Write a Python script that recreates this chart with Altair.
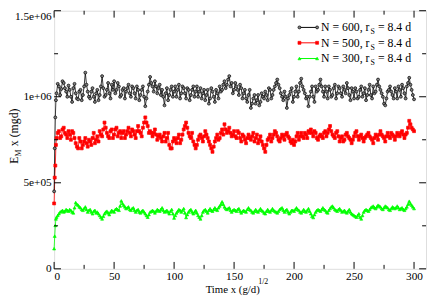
import altair as alt
import pandas as pd

# ---------------- data (values in thousands of mgd) ----------------
time_start = [0, 0.5, 1, 1.5]
time_even = list(range(2, 301, 2))
time_odd = list(range(3, 300, 2))

black_start = [450, 700, 880, 980]
black_even = [
    1020, 1060, 1045, 1080, 1030, 1065, 1000, 1050, 1020, 985,
    1040, 1010, 1140, 1030, 990, 1050, 970, 1040, 1010, 1120,
    1000, 1040, 1020, 1070, 1090, 1040, 1060, 1010, 1050, 1030,
    1070, 1000, 1050, 990, 1040, 1010, 1060, 945, 1030, 1115,
    1060, 1090, 1020, 1070, 1040, 950, 1050, 1010, 1060, 1030,
    1000, 1070, 1020, 1050, 990, 1040, 1010, 1060, 1030, 1000,
    1050, 1020, 980, 1040, 990, 1030, 970, 1020, 1060, 1040,
    1090, 1070, 1120, 1080, 1040, 1060, 1010, 1050, 1020, 990,
    1010, 935, 990, 960, 1010, 970, 1000, 1030, 980, 1040,
    1010, 1060, 1100, 1050, 1000, 1030, 935, 1010, 1050, 1000,
    1060, 1030, 1105, 1040, 990, 945, 1030, 1000, 1060, 1040,
    1100, 1030, 1060, 990, 1040, 1010, 1070, 1020, 1050, 1000,
    1040, 1080, 1010, 1050, 990, 1030, 1000, 1060, 1020, 980,
    1040, 1010, 1060, 1030, 1100, 1040, 1000, 950, 1030, 1060,
    1010, 1050, 990, 1040, 1070, 1020, 1060, 1110, 1040, 985,
]
black_odd = [
    1075, 1010, 1090, 1050, 1000, 1040, 970, 1075, 990, 1030,
    980, 1060, 1070, 1000, 1030, 1000, 1020, 980, 1060, 1050,
    1010, 1080, 990, 1040, 1020, 1080, 1000, 1040, 990, 1050,
    1020, 1060, 1020, 1060, 980, 1040, 1000, 990, 1070, 1080,
    1030, 1060, 1050, 1010, 1000, 1020, 980, 1040, 1000, 1060,
    1040, 990, 1060, 1020, 1050, 980, 1040, 1000, 1060, 1030,
    990, 1040, 1010, 960, 1050, 1000, 1040, 990, 1030, 1070,
    1050, 1100, 1060, 1020, 1080, 1040, 1070, 990, 1040, 970,
    1040, 960, 1010, 980, 950, 1020, 990, 1010, 1050, 990,
    1040, 1080, 1070, 1020, 980, 1000, 990, 1030, 970, 1030,
    1000, 1080, 1060, 1020, 1000, 1000, 1060, 970, 1030, 1070,
    1060, 1000, 1030, 1060, 1000, 1050, 990, 1060, 1020, 1060,
    1020, 1050, 980, 1030, 1050, 990, 1040, 1000, 1050, 1010,
    1070, 990, 1020, 1070, 1060, 1020, 960, 990, 1040, 1030,
    990, 1030, 1060, 1000, 1050, 990, 1080, 1070, 1010,
]

red_start = [380, 530, 600, 720]
red_even = [
    760, 800, 770, 820, 780, 800, 750, 790, 730, 700,
    740, 720, 760, 710, 740, 760, 730, 770, 800, 770,
    850, 790, 760, 810, 780, 820, 790, 760, 800, 780,
    820, 770, 800, 760, 830, 790, 820, 880, 830, 800,
    770, 810, 750, 780, 740, 790, 760, 720, 700, 760,
    730, 780, 750, 810, 850, 790, 760, 740, 700, 750,
    780, 740, 800, 760, 720, 680, 740, 780, 760, 810,
    840, 790, 820, 770, 800, 760, 790, 740, 770, 730,
    780, 750, 790, 760, 730, 770, 720, 680, 750, 780,
    760, 800, 770, 740, 780, 750, 790, 760, 730, 720,
    770, 750, 790, 760, 780, 800, 810, 770, 790, 750,
    780, 760, 800, 790, 830, 780, 760, 800, 740, 770,
    750, 790, 760, 730, 770, 800, 750, 780, 740, 770,
    790, 760, 730, 780, 750, 800, 770, 740, 790, 760,
    780, 750, 790, 770, 800, 760, 790, 860, 820, 800,
]
red_odd = [
    790, 760, 810, 790, 760, 780, 800, 760, 710, 760,
    700, 740, 730, 750, 720, 790, 750, 740, 780, 810,
    820, 770, 800, 760, 810, 770, 800, 790, 760, 800,
    790, 810, 780, 800, 800, 770, 850, 850, 790, 790,
    790, 780, 770, 760, 770, 740, 790, 700, 740, 750,
    760, 730, 780, 830, 820, 770, 790, 720, 720, 770,
    760, 770, 780, 740, 700, 710, 760, 750, 790, 780,
    810, 800, 790, 780, 770, 800, 760, 780, 750, 760,
    760, 770, 740, 780, 750, 740, 700, 720, 760, 740,
    780, 790, 750, 760, 770, 780, 770, 740, 750, 740,
    790, 770, 770, 790, 760, 790, 790, 800, 760, 770,
    770, 790, 770, 810, 800, 770, 790, 770, 760, 740,
    780, 770, 750, 750, 790, 770, 770, 760, 760, 780,
    770, 750, 760, 770, 780, 780, 760, 770, 770, 790,
    770, 770, 780, 790, 780, 780, 820, 840, 810,
]

green_start = [117, 190, 252, 290]
green_even = [
    300, 320, 335, 330, 345, 335, 340, 325, 385, 370,
    355, 340, 360, 330, 345, 320, 340, 330, 310, 290,
    320, 335, 315, 340, 330, 350, 340, 395, 370, 350,
    360, 340, 355, 330, 345, 325, 340, 320, 300, 330,
    340, 325, 345, 335, 355, 330, 340, 320, 345, 295,
    325, 345, 330, 350, 298, 330, 345, 320, 340, 310,
    290, 330, 345, 325, 350, 335, 355, 340, 365, 390,
    360, 345, 355, 330, 345, 335, 350, 325, 340, 330,
    355, 340, 325, 345, 330, 350, 335, 320, 345, 330,
    350, 335, 325, 345, 355, 330, 345, 320, 340, 335,
    355, 340, 325, 345, 330, 350, 320, 298, 330, 345,
    335, 355, 340, 325, 350, 365, 345, 335, 350, 330,
    340, 325, 345, 320, 310, 300, 320, 290, 330, 345,
    335, 355, 365, 350, 370, 360, 345, 365, 355, 340,
    360, 350, 365, 345, 355, 340, 360, 393, 370, 350,
]
green_odd = [
    310, 330, 340, 335, 340, 345, 330, 355, 375, 360,
    345, 350, 345, 340, 330, 335, 325, 320, 300, 305,
    330, 325, 330, 335, 345, 345, 365, 380, 360, 355,
    345, 350, 340, 340, 330, 335, 330, 310, 315, 335,
    335, 335, 340, 345, 340, 335, 330, 335, 320, 310,
    335, 340, 340, 325, 315, 340, 330, 330, 325, 300,
    310, 340, 335, 340, 340, 345, 345, 355, 375, 375,
    350, 350, 340, 340, 340, 345, 335, 335, 335, 345,
    345, 330, 335, 335, 340, 340, 325, 335, 335, 340,
    340, 330, 335, 350, 340, 340, 330, 330, 340, 345,
    345, 330, 335, 335, 340, 335, 305, 315, 340, 340,
    345, 345, 330, 340, 360, 355, 340, 345, 340, 335,
    330, 335, 330, 315, 305, 310, 300, 310, 340, 340,
    345, 360, 355, 360, 365, 350, 355, 360, 345, 350,
    355, 355, 355, 350, 345, 350, 375, 380, 360,
]

series_names = ["N = 600", "N = 500", "N = 300"]
series_colors = ["#000000", "#ff0000", "#00ff00"]
series_shapes = ["circle", "square", "triangle-up"]
series_fills = ["#808080", "#ff0000", "#00ff00"]

legend_main = ["N = 600, r", "N = 500, r", "N = 300, r"]
legend_sub = "S"
legend_tail = "= 8.4 d"

x_major = [0, 50, 100, 150, 200, 250, 300]
x_minor = [25, 75, 125, 175, 225, 275]
y_major = [0, 500000, 1000000, 1500000]
y_major_labels = ["0", "5e+05", "1e+06", "1.5e+06"]
y_minor = [250000, 750000, 1250000]

# ---------------- build table ----------------
rows = []
for name, s0, se, so in zip(series_names,
                            [black_start, red_start, green_start],
                            [black_even, red_even, green_even],
                            [black_odd, red_odd, green_odd]):
    for t, v in zip(time_start, s0):
        rows.append({"t": t, "E": v * 1000.0, "series": name})
    for t, v in zip(time_even, se):
        rows.append({"t": t, "E": v * 1000.0, "series": name})
    for t, v in zip(time_odd, so):
        rows.append({"t": t, "E": v * 1000.0, "series": name})
df = pd.DataFrame(rows).sort_values(["series", "t"]).reset_index(drop=True)

W, H = 379, 263
FONT = "Liberation Serif"

xscale = alt.Scale(domain=[0, 310], nice=False, zero=False)
yscale = alt.Scale(domain=[0, 1500000], nice=False)

label_expr = " : ".join(
    f"datum.value == {v} ? '{l}'" for v, l in zip(y_major, y_major_labels)
) + " : ''"

color_scale = alt.Scale(domain=series_names, range=series_colors)
shape_scale = alt.Scale(domain=series_names, range=series_shapes)
fill_scale = alt.Scale(domain=series_names, range=series_fills)

x_axis = alt.Axis(values=x_major, title=None, ticks=False, domain=False,
                  grid=False, labelPadding=2, labelFont=FONT, labelFontSize=11.5,
                  labelColor="black")
y_axis = alt.Axis(values=y_major, labelExpr=label_expr, title=None,
                  ticks=False, domain=False, grid=False, labelPadding=3,
                  labelFont=FONT, labelFontSize=11.5, labelColor="black",
                  labelBaseline={"condition": {"test": f"datum.value == {y_major[-1]}",
                                               "value": "top"},
                                 "value": "middle"})

lines = alt.Chart(df).mark_line(strokeWidth=0.8).encode(
    x=alt.X("t:Q", scale=xscale, axis=x_axis),
    y=alt.Y("E:Q", scale=yscale, axis=y_axis),
    color=alt.Color("series:N", scale=color_scale, legend=None),
    detail="series:N",
    order="t:Q",
)
points = alt.Chart(df).mark_point(size=9, strokeWidth=0.7, opacity=1).encode(
    x=alt.X("t:Q", scale=xscale, axis=x_axis),
    y=alt.Y("E:Q", scale=yscale, axis=y_axis),
    color=alt.Color("series:N", scale=color_scale, legend=None),
    shape=alt.Shape("series:N", scale=shape_scale, legend=None),
    fill=alt.Fill("series:N", scale=fill_scale, legend=None),
)

layers = [lines, points]

# inward ticks
def xticks(vals, length):
    d = pd.DataFrame({"v": vals})
    b = alt.Chart(d).mark_rule(color="black", strokeWidth=1)
    return [
        b.encode(x=alt.X("v:Q", scale=xscale, axis=x_axis), y=alt.value(H), y2=alt.value(H - length)),
        b.encode(x=alt.X("v:Q", scale=xscale, axis=x_axis), y=alt.value(0), y2=alt.value(length)),
    ]

def yticks(vals, length):
    d = pd.DataFrame({"v": vals})
    b = alt.Chart(d).mark_rule(color="black", strokeWidth=1)
    return [
        b.encode(y=alt.Y("v:Q", scale=yscale, axis=y_axis), x=alt.value(0), x2=alt.value(length)),
        b.encode(y=alt.Y("v:Q", scale=yscale, axis=y_axis), x=alt.value(W), x2=alt.value(W - length)),
    ]

layers += xticks(x_major, 7) + xticks(x_minor, 4) + yticks(y_major, 7) + yticks(y_minor, 4)

one = pd.DataFrame({"a": [0]})

def txt(s, x, y, size, angle=0, align="left"):
    return alt.Chart(one).mark_text(
        font=FONT, fontSize=size, align=align, baseline="alphabetic",
        angle=angle, color="black").encode(
        x=alt.value(x), y=alt.value(y), text=alt.value(s))

# y title: E_M x (mgd)
layers += [
    txt("E", -37, 156, 12, angle=270),
    txt("M", -34, 148.5, 8, angle=270),
    txt("x (mgd)", -37, 138, 12, angle=270),
]
# x title: Time x (g/d)^1/2
layers += [
    txt("Time x (g/d)", 182, 287.5, 11, align="center"),
    txt("1/2", 208, 278, 8),
]

# legend
leg_y = [17, 32.7, 48.7]
for i in range(3):
    yv = leg_y[i]
    seg = alt.Chart(one).mark_rule(color=series_colors[i], strokeWidth=1).encode(
        x=alt.value(250), x2=alt.value(268), y=alt.value(yv))
    pts = alt.Chart(pd.DataFrame({"px": [250, 268]})).mark_point(
        size=9, strokeWidth=0.7, opacity=1, shape=series_shapes[i],
        color=series_colors[i], fill=series_fills[i]).encode(
        x=alt.X("px:Q", scale=None), y=alt.value(yv))
    layers += [seg, pts,
               txt(legend_main[i], 272, yv + 4, 12),
               txt(legend_sub, 322.5, yv + 7, 8),
               txt(legend_tail, 330, yv + 4, 12)]

chart = alt.layer(*layers).properties(
    width=W, height=H,
    padding={"left": 47, "top": 0, "right": 2, "bottom": 29},
    autosize=alt.AutoSizeParams(type="none"),
).configure_view(
    stroke="black", strokeWidth=1
).configure(background="white")

chart.save("out.html", embed_options={"renderer": "svg", "actions": False})
